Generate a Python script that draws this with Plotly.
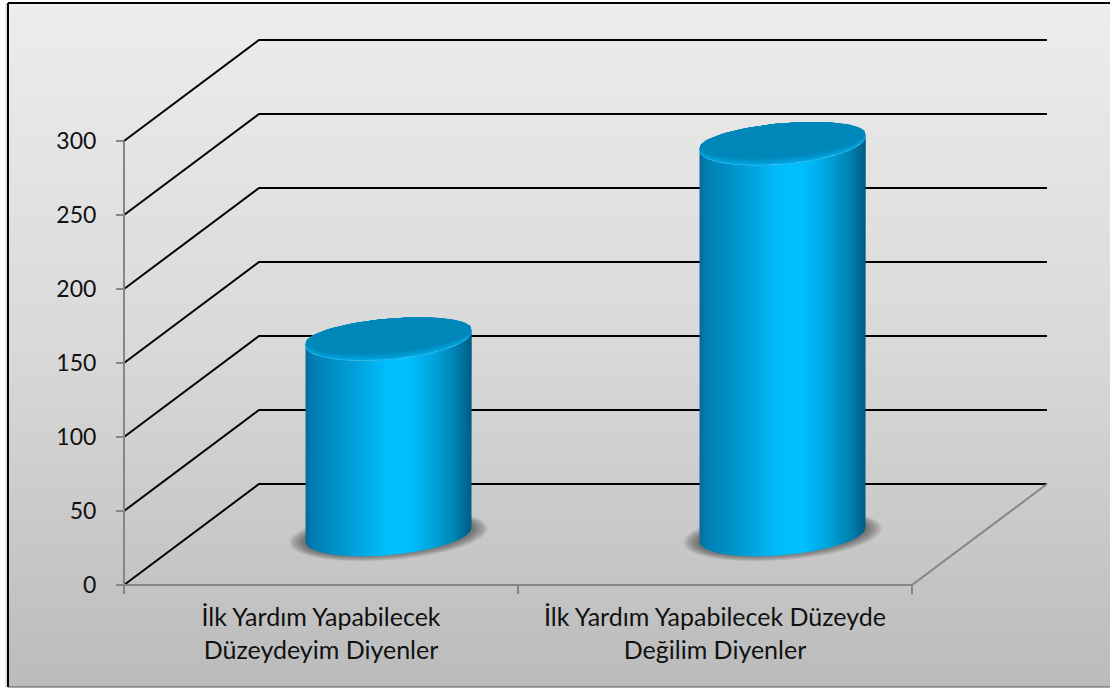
import plotly.graph_objects as go

# ---- data ----
categories = ["İlk Yardım Yapabilecek<br>Düzeydeyim Diyenler",
              "İlk Yardım Yapabilecek Düzeyde<br>Değilim Diyenler"]
category_pos = [0.5, 1.5]
values = [132, 264]
y_ticks = [0, 50, 100, 150, 200, 250, 300]

# ---- scales (pixels per unit), used only to derive axis ranges ----
W, H = 1110, 688
PX_X, PX_Y = 394.0, 1.48      # px per category, px per value unit
ORG_X, ORG_Y = 124, 585       # pixel of category 0 / value 0
DEPTH_X = 135 / PX_X          # back-wall offset in axis units
DEPTH_Y = 101 / PX_Y
MID = 0.5                     # cylinders stand half way in the depth

GRAY = "#868686"
SHADE = [(0.00, (6, 108, 152)), (0.04, (0, 126, 176)), (0.22, (0, 150, 205)),
         (0.48, (0, 188, 250)), (0.62, (0, 191, 255)), (0.78, (0, 162, 218)),
         (0.92, (0, 124, 172)), (1.00, (0, 92, 128))]


def lerp(stops, u):
    for (a, ca), (b, cb) in zip(stops, stops[1:]):
        if u <= b:
            t = (u - a) / (b - a)
            return tuple(ca[i] + (cb[i] - ca[i]) * t for i in range(3))
    return stops[-1][1]


def rgb(c):
    c = [int(round(v)) for v in c]
    return f"rgb({c[0]},{c[1]},{c[2]})"


fig = go.Figure()


def poly(xs, ys, color):
    fig.add_trace(go.Scatter(x=xs, y=ys, mode="lines", fill="toself", fillcolor=color,
                             line=dict(width=0), hoverinfo="skip", showlegend=False))


def path(xs, ys, color, width=2):
    fig.add_trace(go.Scatter(x=xs, y=ys, mode="lines", line=dict(color=color, width=width),
                             hoverinfo="skip", showlegend=False))


# ---- background gradient ----
BG_L, BG_R, BG_T, BG_B = 8, W, 3, 687
rows = list(range(BG_T, BG_B + 1, 2))
edges = [(ORG_Y - r) / PX_Y for r in rows]
bg_stops = [(0.0, (237,)), (0.5, (217,)), (1.0, (187,))]
levels = []
for r in rows[:-1]:
    u = (r - BG_T) / (BG_B - BG_T)
    for (a, ca), (b, cb) in zip(bg_stops, bg_stops[1:]):
        if u <= b:
            levels.append([ca[0] + (cb[0] - ca[0]) * (u - a) / (b - a)])
            break
fig.add_trace(go.Heatmap(x=[(BG_L - ORG_X) / PX_X, (BG_R - ORG_X) / PX_X], y=edges, z=levels,
                         zmin=0, zmax=255, colorscale=[[0, "black"], [1, "white"]],
                         showscale=False, hoverinfo="skip"))

# ---- walls ----
x_end = len(categories)
for v in y_ticks:
    path([0, DEPTH_X, x_end + DEPTH_X], [v, v + DEPTH_Y, v + DEPTH_Y], "#000000")
path([0, 0], [0, y_ticks[-1]], GRAY)
path([0, x_end, x_end + DEPTH_X], [0, 0, DEPTH_Y], GRAY)

# ---- cylinders ----
RX = 83 / PX_X
RY = 20.5 / PX_Y
TILT = 7 / PX_Y
N = 166


def arc(cx, cy, rx, ry, tilt, n=90):
    from math import cos, sin, pi
    xs, ys = [], []
    for i in range(n + 1):
        t = 2 * pi * i / n
        xs.append(cx + rx * cos(t))
        ys.append(cy + ry * sin(t) + tilt * cos(t))
    return xs, ys


def low_edge(cx, cy, x):
    # lower side of the tilted ellipse at horizontal position x
    u = (x - cx) / RX
    u = max(-1.0, min(1.0, u))
    return cy + TILT * u - RY * (1 - u * u) ** 0.5


for cat, val in zip(category_pos, values):
    cx = cat + MID * DEPTH_X
    base = MID * DEPTH_Y
    top = base + val

    # soft floor shadow
    for i in range(14):
        f = i / 13
        sx, sy = arc(cx, base - 1 / PX_Y, RX + (16.5 - 15 * f) / PX_X,
                     RY + (4.5 - 6 * f) / PX_Y, TILT)
        poly(sx, sy, "rgba(50,50,50,0.055)")

    # body: narrow vertical slices shaded across the width
    for i in range(N):
        u0, u1 = i / N, (i + 1) / N
        x0 = cx - RX + 2 * RX * u0
        x1 = cx - RX + 2 * RX * min(1.0, (i + 2) / N)
        xm = [x0 + (x1 - x0) * k / 3 for k in range(4)]
        yt = [low_edge(cx, top, x) for x in xm]
        yb = [low_edge(cx, base, x) for x in xm]
        poly(xm + xm[::-1], yt + yb[::-1], rgb(lerp(SHADE, (u0 + u1) / 2)))

    # top face: bevel, then flat face
    sx, sy = arc(cx, top, RX, RY, TILT)
    poly(sx, sy, "rgb(16,176,236)")
    steps = 8
    for i in range(1, steps + 1):
        f = i / steps
        d = 7 * f / PX_Y
        c = lerp([(0, (0, 166, 226)), (1, (0, 135, 186))], f)
        sx, sy = arc(cx, top + d / 2, RX - 0.4 * f / PX_X, RY - d / 2, TILT)
        poly(sx, sy, rgb(c))


def frame(x0, y0, x1, y1, color, width):
    return dict(type="line", xref="paper", yref="paper", x0=x0 / W, x1=x1 / W,
                y0=1 - y0 / H, y1=1 - y1 / H, line=dict(color=color, width=width), layer="above")


fig.update_layout(
    width=W, height=H, margin=dict(l=0, r=0, t=0, b=0), autosize=False,
    paper_bgcolor="white", plot_bgcolor="rgba(0,0,0,0)", showlegend=False,
    font=dict(family="Lato, Carlito, sans-serif", color="#111111"),
    xaxis=dict(range=[-ORG_X / PX_X, (W - ORG_X) / PX_X], anchor="free", position=(H - ORG_Y) / H,
               tickmode="array", tickvals=category_pos, ticktext=categories, ticks="",
               tickfont=dict(size=25), showgrid=False, zeroline=False, showline=False,
               ticklabelstandoff=15, tickangle=0,
               minor=dict(tickmode="array", tickvals=[0, 1, 2], ticks="outside", ticklen=8,
                          tickwidth=2, tickcolor=GRAY, showgrid=False)),
    yaxis=dict(range=[(ORG_Y - H) / PX_Y, ORG_Y / PX_Y], anchor="free", position=ORG_X / W,
               tickmode="array", tickvals=y_ticks, ticks="outside", ticklen=8, tickwidth=2,
               tickcolor=GRAY, tickfont=dict(size=23), showgrid=False, zeroline=False,
               showline=False, ticklabelstandoff=15),
    shapes=[frame(6, 3, 6, 687, "#c4c4c4", 1),
            frame(BG_L, 3, BG_L, 687, "#000000", 2),
            frame(BG_L, 3, W, 3, "#000000", 2),
            frame(BG_L, 687, W, 687, "#555555", 1)],
)

fig.write_html("out.html", config=dict(displayModeBar=False),
               post_script="document.body.style.margin='0';document.body.style.overflow='hidden';")
